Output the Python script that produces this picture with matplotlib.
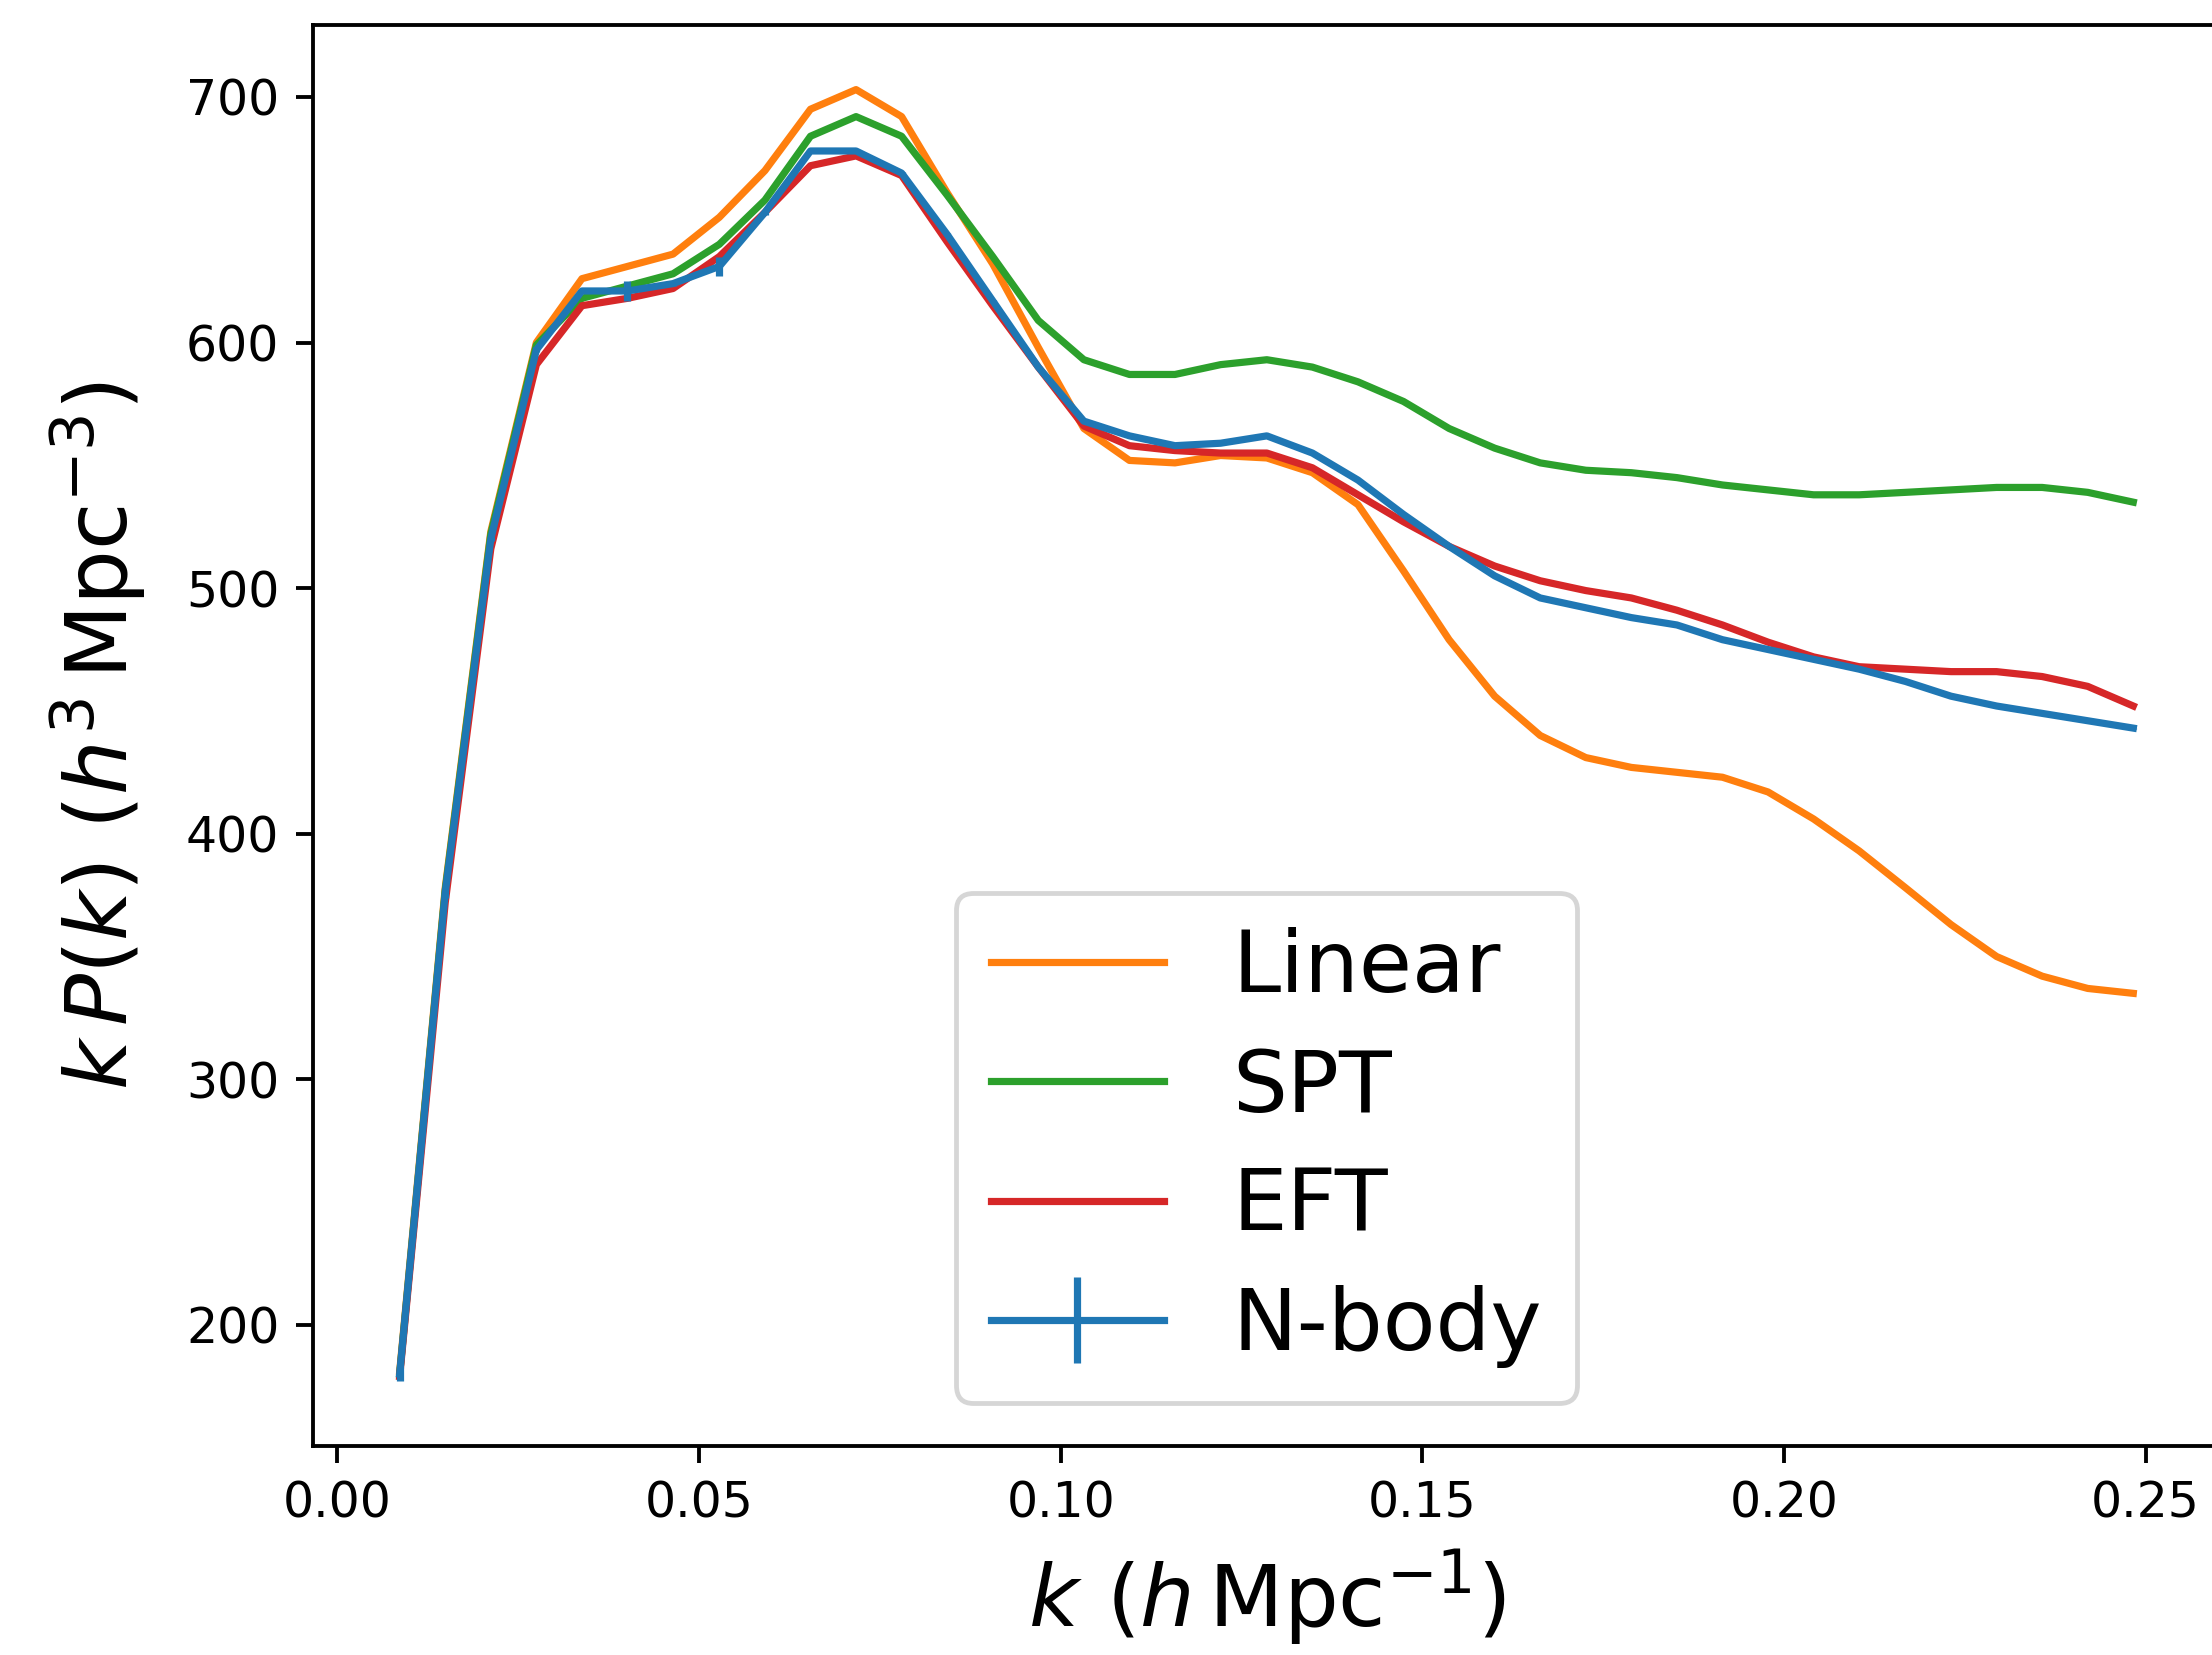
import matplotlib
matplotlib.use("Agg")
import matplotlib.pyplot as plt

k = [0.0086, 0.0149, 0.0212, 0.0275, 0.0338, 0.0401, 0.0464, 0.0528, 0.0591, 0.0654,
     0.0717, 0.0780, 0.0843, 0.0906, 0.0969, 0.1032, 0.1095, 0.1158, 0.1221, 0.1285,
     0.1348, 0.1411, 0.1474, 0.1537, 0.1600, 0.1663, 0.1726, 0.1789, 0.1852, 0.1915,
     0.1978, 0.2041, 0.2104, 0.2168, 0.2231, 0.2294, 0.2357, 0.2420, 0.2483]

linear = [181, 378, 523, 600, 626, 631, 636, 651, 670, 695,
          703, 692, 661, 632, 598, 565, 552, 551, 554, 553,
          547, 534, 507, 479, 456, 440, 431, 427, 425, 423,
          417, 406, 393, 378, 363, 350, 342, 337, 335]

spt = [180, 377, 522, 599, 618, 623, 628, 640, 658, 684,
       692, 684, 660, 635, 609, 593, 587, 587, 591, 593,
       590, 584, 576, 565, 557, 551, 548, 547, 545, 542,
       540, 538, 538, 539, 540, 541, 541, 539, 535]

eft = [179, 372, 516, 591, 615, 618, 622, 635, 653, 672,
       676, 668, 641, 615, 590, 566, 558, 556, 555, 555,
       549, 538, 527, 517, 509, 503, 499, 496, 491, 485,
       478, 472, 468, 467, 466, 466, 464, 460, 452]

nbody = [180, 376, 520, 597, 621, 621, 624, 631, 653, 678,
         678, 669, 644, 617, 590, 568, 562, 558, 559, 562,
         555, 544, 530, 517, 505, 496, 492, 488, 485, 479,
         475, 471, 467, 462, 456, 452, 449, 446, 443]

nbody_err = [3, 2, 1, 1, 1, 4, 1, 4, 1, 0.5,
             0.5, 0.5, 0.5, 0.5, 0.5, 0.5, 0.5, 0.5, 0.5, 0.5,
             0.3, 0.3, 0.3, 0.3, 0.3, 0.3, 0.3, 0.3, 0.3, 0.3,
             0.2, 0.2, 0.2, 0.2, 0.2, 0.2, 0.2, 0.2, 0.2]

dpi = 2212 / 6.4
fig = plt.figure(figsize=(6.4, 1655 / dpi), dpi=dpi)
ax = fig.add_axes([0.1415, 0.1263, 0.8621, 0.8586])

ax.plot(k, linear, color="C1", label="Linear")
ax.plot(k, spt, color="C2", label="SPT")
ax.plot(k, eft, color="C3", label="EFT")
ax.errorbar(k, nbody, yerr=nbody_err, color="C0", label="N-body")

ax.set_xlabel(r"$k\ (h\,\mathrm{Mpc}^{-1})$", fontsize=18)
ax.set_ylabel(r"$k\,P(k)\ (h^3\,\mathrm{Mpc}^{-3})$", fontsize=18, labelpad=8)
ax.tick_params(labelsize=10.2)
ax.legend(loc="lower center", fontsize=18, labelspacing=0.42)

fig.savefig("out.png", dpi=dpi)
